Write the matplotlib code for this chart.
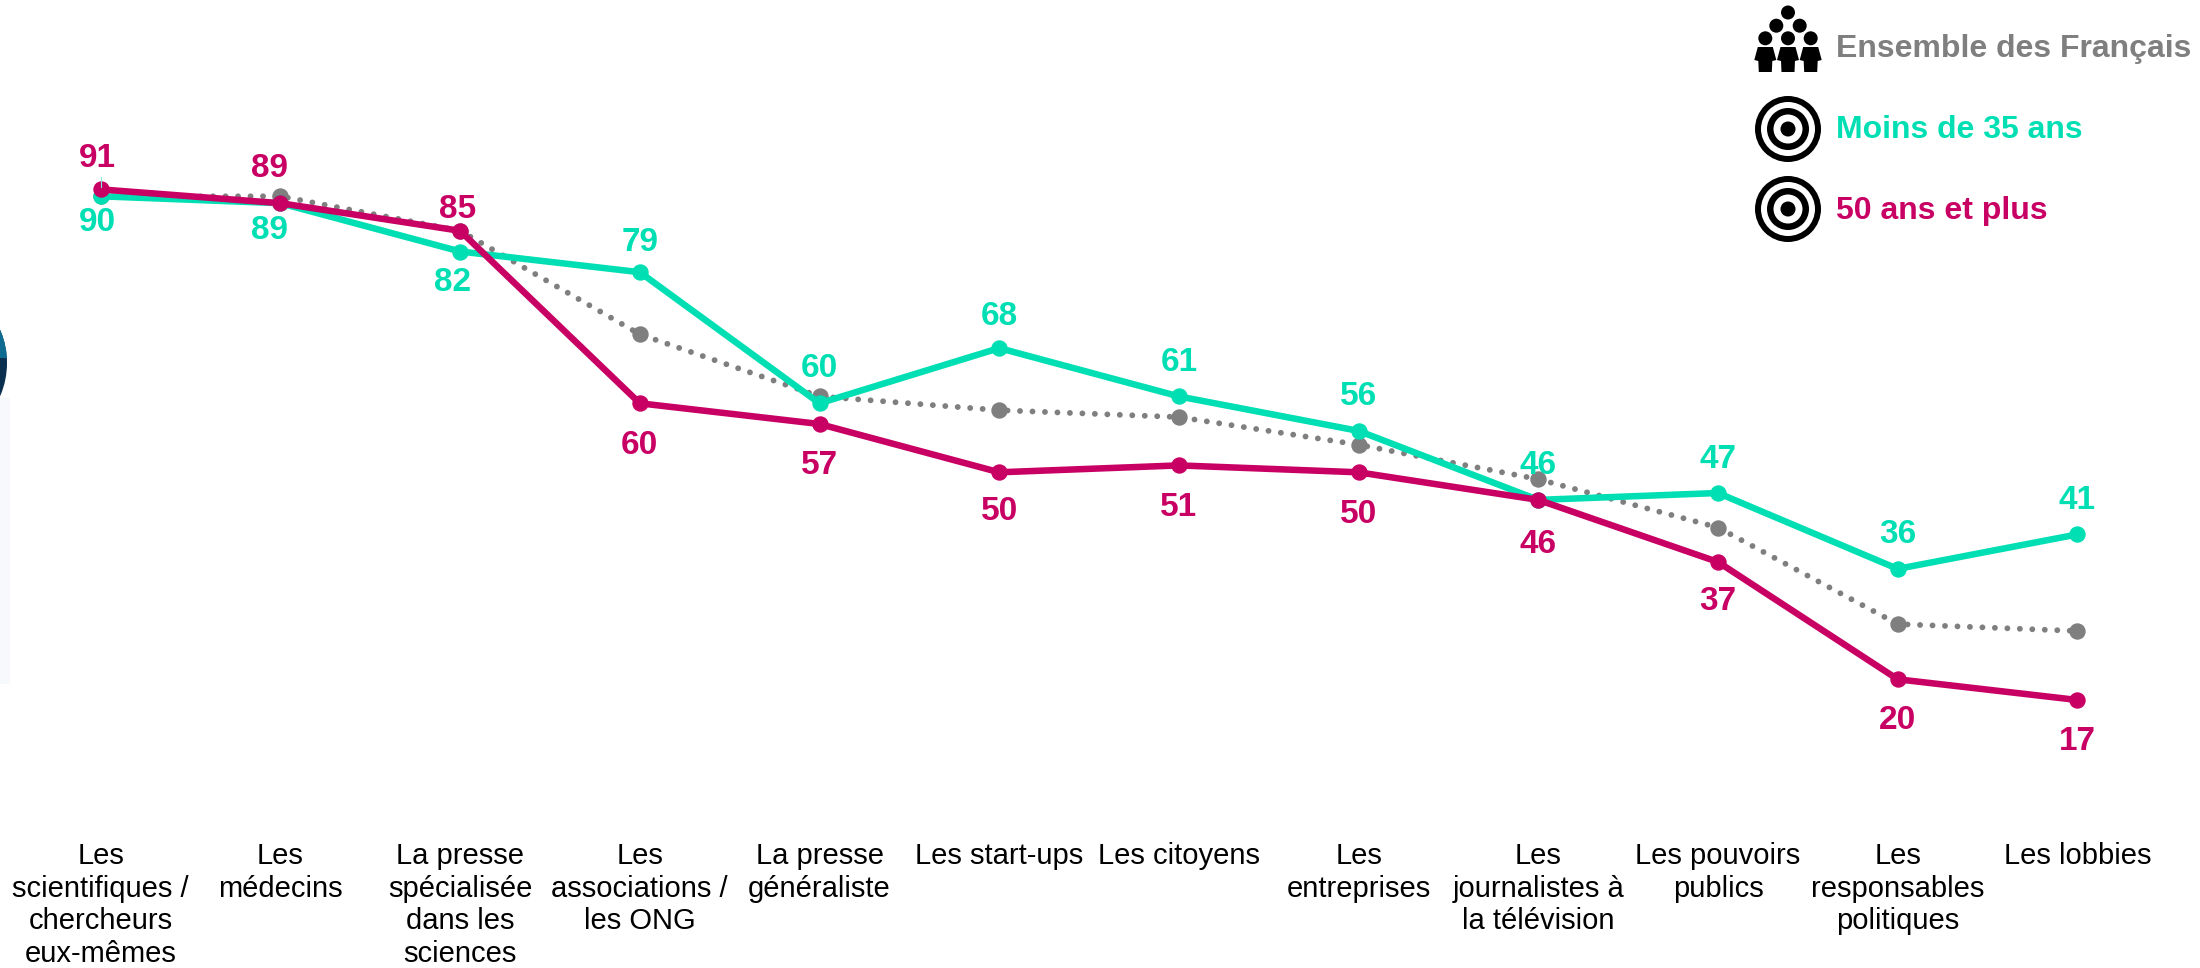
import matplotlib
matplotlib.use('Agg')
import matplotlib.pyplot as plt
from matplotlib.patches import Circle, Polygon, Rectangle

plt.rcParams['font.family'] = ['Liberation Sans', 'DejaVu Sans']

TEAL = '#00DFB3'
PINK = '#C90063'
GRAY = '#7F7F7F'

categories = [
    "Les\nscientifiques /\nchercheurs\neux-mêmes",
    "Les\nmédecins",
    "La presse\nspécialisée\ndans les\nsciences",
    "Les\nassociations /\nles ONG",
    "La presse\ngénéraliste",
    "Les start-ups",
    "Les citoyens",
    "Les\nentreprises",
    "Les\njournalistes à\nla télévision",
    "Les pouvoirs\npublics",
    "Les\nresponsables\npolitiques",
    "Les lobbies",
]
ensemble = [90, 90, 85, 70, 61, 59, 58, 54, 49, 42, 28, 27]
moins_35 = [90, 89, 82, 79, 60, 68, 61, 56, 46, 47, 36, 41]
plus_50 = [91, 89, 85, 60, 57, 50, 51, 50, 46, 37, 20, 17]

# label offsets from the point, in pixels of the full picture
teal_dx = [-3, -11, -8, 0, 0, 0, 0, 0, 0, 0, 0, 0]
teal_dy = [26, 27, 31, -30, -35, -32, -34, -34, -34, -34, -34, -34]
pink_dx = [-3, -11, -3, 0, 0, 0, 0, 0, 0, 0, 0, 0]
pink_dy = [-31, -35, -21, 42, 41, 39, 42, 42, 45, 39, 41, 41]

# pixel scale of the data
X0, X_STEP = 100.7, 179.7
Y91, Y_UNIT = 189.4, 6.9
AXES_BOTTOM = 830


def add_labels(ax, xs, values, dxs, dys, color):
    for x, v, dx, dy in zip(xs, values, dxs, dys):
        ax.annotate(str(v), (x, v), xytext=(dx * 0.72, -dy * 0.72),
                    textcoords='offset points', ha='center', va='center',
                    color=color, fontsize=24, fontweight='bold', zorder=6)


def draw_lines(ax):
    xs = list(range(len(categories)))
    ax.plot(xs, ensemble, color=GRAY, lw=4.2, linestyle=(0, (0.01, 2.13)),
            dash_capstyle='round', zorder=2)
    ax.plot(xs, ensemble, color=GRAY, lw=0, marker='o', ms=10.8, zorder=2)
    ax.plot(xs, moins_35, color=TEAL, lw=4.7, marker='o', ms=10.8, zorder=3)
    ax.plot(xs, plus_50, color=PINK, lw=4.7, marker='o', ms=10.8, zorder=4)
    add_labels(ax, xs, moins_35, teal_dx, teal_dy, TEAL)
    add_labels(ax, xs, plus_50, pink_dx, pink_dy, PINK)
    ax.set_xticks(xs)
    ax.set_xticklabels(categories, fontsize=21, linespacing=1.2)
    ax.tick_params(axis='x', length=0, pad=9, colors='black')
    ax.set_yticks([])
    for spine in ax.spines.values():
        spine.set_visible(False)
    ax.set_xlim(-X0 / X_STEP, (2200 - X0) / X_STEP)
    ax.set_ylim(91 - (AXES_BOTTOM - Y91) / Y_UNIT, 91 + Y91 / Y_UNIT)


def draw_target(over, cx, cy):
    radii = [33, 27, 21, 14.5, 7.5]
    for i, r in enumerate(radii):
        over.add_patch(Circle((cx, cy), r, color='black' if i % 2 == 0 else 'white', lw=0))


def draw_people(over, cx):
    for hx, hy in [(0, 12.5), (-11.7, 25.7), (11.7, 25.7),
                   (-22.7, 38.3), (0, 38.3), (22.7, 38.3)]:
        over.add_patch(Circle((cx + hx, hy), 7, color='black', lw=0))
    body = [(-7.5, 47), (7.5, 47), (11, 60), (7, 61), (6.5, 72),
            (-6.5, 72), (-7, 61), (-11, 60)]
    for bx in [-22.7, 0, 22.7]:
        over.add_patch(Polygon([(cx + bx + a, b) for a, b in body],
                               color='black', lw=0))


def draw_overlay(fig):
    over = fig.add_axes([0, 0, 1, 1], zorder=5)
    over.set_xlim(0, 2200)
    over.set_ylim(968, 0)
    over.axis('off')
    over.patch.set_alpha(0)

    # what is left of the picture cut by the left edge
    over.add_patch(Rectangle((0, 397), 10, 287, color='#F7F9FC', lw=0))
    over.add_patch(Circle((-76.7, 363), 83.7, color='#0A2F4F', lw=0))
    top = Circle((-76.7, 363), 83.7, color='#0D6C8F', lw=0)
    over.add_patch(top)
    top.set_clip_path(Rectangle((0, 300), 20, 58, transform=over.transData))

    over.plot([100.7, 100.7], [177, 187], color='#7FEFD9', lw=0.8, zorder=1)

    draw_people(over, 1788)
    draw_target(over, 1788, 129)
    draw_target(over, 1788, 209)
    for y, txt, col in [(49, "Ensemble des Français", GRAY),
                        (130, "Moins de 35 ans", TEAL),
                        (211, "50 ans et plus", PINK)]:
        over.text(1836, y, txt, color=col, fontsize=23, fontweight='bold',
                  va='center', ha='left')


def main():
    fig = plt.figure(figsize=(22, 9.68), dpi=100)
    bottom = (968 - AXES_BOTTOM) / 968
    ax = fig.add_axes([0, bottom, 1, 1 - bottom])
    draw_lines(ax)
    draw_overlay(fig)
    fig.savefig('out.png', dpi=100, facecolor='white')


if __name__ == "__main__":
    main()
